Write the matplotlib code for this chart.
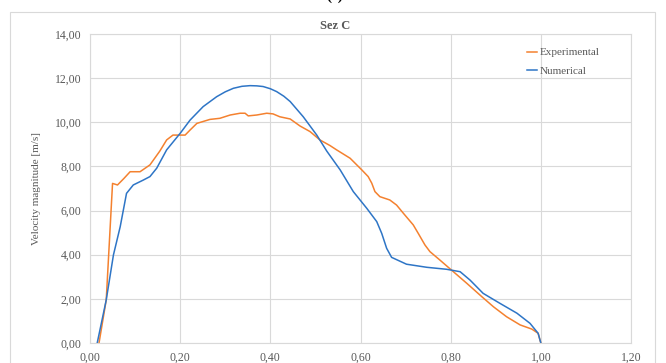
import matplotlib
matplotlib.use('Agg')
import matplotlib.pyplot as plt
from matplotlib.patches import Rectangle
from matplotlib.ticker import FuncFormatter, MultipleLocator

# dati
x_exp = [0.020, 0.036, 0.050, 0.061, 0.075, 0.089, 0.111, 0.133, 0.155, 0.170,
         0.184, 0.211, 0.222, 0.237, 0.266, 0.288, 0.311, 0.333, 0.344, 0.351,
         0.370, 0.392, 0.406, 0.421, 0.444, 0.466, 0.488, 0.510, 0.532, 0.547,
         0.577, 0.603, 0.617, 0.625, 0.632, 0.643, 0.665, 0.680, 0.695, 0.717,
         0.728, 0.743, 0.754, 0.776, 0.806, 0.836, 0.869, 0.895, 0.924, 0.954,
         0.980, 0.994, 1.000]
y_exp = [0.00, 1.95, 7.23, 7.16, 7.45, 7.76, 7.76, 8.07, 8.70, 9.20,
         9.42, 9.42, 9.65, 9.95, 10.13, 10.18, 10.33, 10.41, 10.41, 10.29,
         10.33, 10.41, 10.38, 10.25, 10.15, 9.83, 9.58, 9.20, 8.95, 8.75,
         8.37, 7.84, 7.54, 7.24, 6.86, 6.63, 6.48, 6.25, 5.88, 5.35,
         4.97, 4.44, 4.14, 3.76, 3.23, 2.70, 2.10, 1.64, 1.19, 0.82,
         0.63, 0.44, 0.00]

x_num = [0.016, 0.036, 0.052, 0.067, 0.081, 0.096, 0.118, 0.133, 0.148, 0.170,
         0.200, 0.222, 0.251, 0.281, 0.300, 0.318, 0.337, 0.355, 0.370, 0.384,
         0.400, 0.414, 0.430, 0.444, 0.473, 0.503, 0.525, 0.555, 0.584, 0.614,
         0.636, 0.647, 0.658, 0.669, 0.702, 0.747, 0.791, 0.821, 0.843, 0.872,
         0.909, 0.947, 0.976, 0.994, 1.000]
y_num = [0.00, 1.95, 3.99, 5.27, 6.78, 7.16, 7.38, 7.54, 7.92, 8.75,
         9.50, 10.10, 10.71, 11.16, 11.38, 11.54, 11.63, 11.66, 11.65, 11.62,
         11.52, 11.39, 11.18, 10.94, 10.25, 9.42, 8.70, 7.84, 6.86, 6.10,
         5.50, 4.97, 4.29, 3.88, 3.57, 3.43, 3.34, 3.23, 2.85, 2.25,
         1.80, 1.35, 0.89, 0.44, 0.00]

grigio = '#595959'
griglia = '#d9d9d9'
plt.rcParams['font.family'] = ['Liberation Serif', 'DejaVu Serif']

fig = plt.figure(figsize=(6.66, 3.63), dpi=100)
ax = fig.add_axes([90/666, 1 - 343/363, 541/666, 309/363])

# bordo esterno del grafico
fig.patches.append(Rectangle((10/666, -0.2), 645/666, 1.2 - 12/363 + 0.001,
                             transform=fig.transFigure, fill=False,
                             edgecolor=griglia, linewidth=0.8))
fig.text(335/666, 1 - 3/363, '(c)', ha='center', va='bottom', fontsize=11,
         fontweight='bold', color='black')

ax.plot(x_exp, y_exp, color='#F4812F', linewidth=1.1, label='Experimental')
ax.plot(x_num, y_num, color='#2E75C6', linewidth=1.1, label='Numerical')

ax.set_xlim(0, 1.2)
ax.set_ylim(0, 14)
ax.xaxis.set_major_locator(MultipleLocator(0.2))
ax.yaxis.set_major_locator(MultipleLocator(2))
fmt = FuncFormatter(lambda v, p: f'{v:.2f}'.replace('.', ','))
ax.xaxis.set_major_formatter(fmt)
ax.yaxis.set_major_formatter(fmt)
ax.grid(True, color=griglia, linewidth=0.8)
ax.set_axisbelow(True)
for s in ax.spines.values():
    s.set_color(griglia)
    s.set_linewidth(0.8)
ax.tick_params(length=0, labelsize=8.5, labelcolor=grigio, pad=6)

ax.set_ylabel('Velocity magnitude [m/s]', fontsize=8, color=grigio, labelpad=10)
fig.text(335/666, 1 - 26/363, 'Sez C', ha='center', va='center', fontsize=9,
         fontweight='bold', color=grigio)

ax.legend(loc='upper left', bbox_to_anchor=(0.8, 0.97), frameon=False,
          fontsize=8, labelcolor=grigio, handlelength=0.9, handletextpad=0.2,
          labelspacing=0.8, borderaxespad=0)

fig.savefig('out.png', dpi=100)
